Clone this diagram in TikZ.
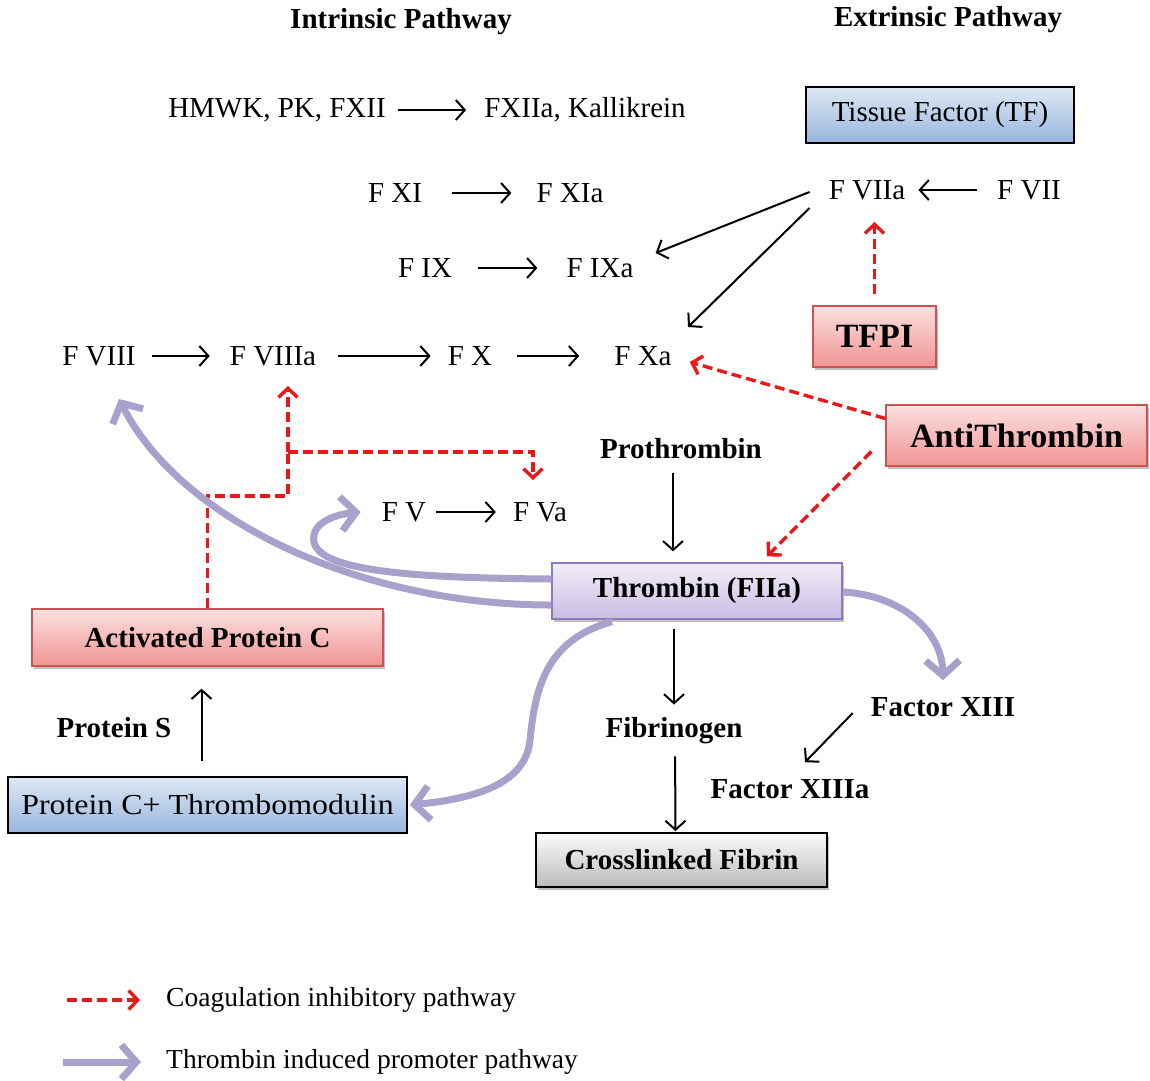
\documentclass[tikz,border=0pt]{standalone}
\usepackage{fontspec}
\usepackage{graphicx}
\setmainfont{Liberation Serif}
\usetikzlibrary{arrows.meta,shadows}
\definecolor{lav}{RGB}{170,160,204}
\definecolor{inhred}{RGB}{236,24,24}
\definecolor{blueT}{RGB}{222,232,244}
\definecolor{blueB}{RGB}{152,182,222}
\definecolor{redT}{RGB}{252,224,224}
\definecolor{redB}{RGB}{240,148,148}
\definecolor{redD}{RGB}{200,84,84}
\definecolor{purT}{RGB}{242,238,248}
\definecolor{purB}{RGB}{200,188,228}
\definecolor{purD}{RGB}{140,122,190}
\definecolor{grayT}{RGB}{252,252,252}
\definecolor{grayB}{RGB}{186,186,186}
\begin{document}
\begin{tikzpicture}[x=1pt,y=-1pt,
  txt/.style={font=\fontsize{29}{34}\selectfont, inner sep=0pt},
  btxt/.style={font=\bfseries\fontsize{29}{34}\selectfont, inner sep=0pt},
  legtxt/.style={font=\fontsize{27.5}{32}\selectfont, inner sep=0pt, anchor=west},
  arr/.style={line width=2pt, -{Straight Barb[length=9pt,width=20pt]}},
  inh/.style={draw=inhred, line width=3.4pt, dash pattern=on 10pt off 5pt, -{Straight Barb[length=9pt,width=19pt]}},
  prom/.style={draw=lav, line width=7pt, -{Straight Barb[length=15pt,width=34pt]}},
  shad/.style={drop shadow={shadow xshift=2pt,shadow yshift=-3pt,fill=black,opacity=0.25}},
  bluebox/.style={draw=black, line width=1.8pt, top color=blueT, bottom color=blueB, inner sep=0pt, font=\fontsize{29}{34}\selectfont},
  redbox/.style={draw=redD, line width=1.3pt, top color=redT, bottom color=redB, inner sep=0pt, shad, font=\bfseries\fontsize{29}{34}\selectfont},
  purbox/.style={draw=purD, line width=1.3pt, top color=purT, bottom color=purB, inner sep=0pt, shad, font=\bfseries\fontsize{29}{34}\selectfont},
  graybox/.style={draw=black, line width=1.8pt, top color=grayT, bottom color=grayB, inner sep=0pt, shad, font=\bfseries\fontsize{29}{34}\selectfont}
]
\useasboundingbox[fill=white] (0,0) rectangle (1150,1080);

% headings
\node[btxt] (intr) at (401,22) {Intrinsic Pathway};
\node[btxt] (extr) at (948,20) {Extrinsic Pathway};

% intrinsic chain
\node[txt] (hmwk) at (277,110) {HMWK, PK, FXII};
\node[txt] (fxiia) at (585,110) {FXIIa, Kallikrein};
\node[txt] (fxi) at (395,193) {F XI};
\node[txt] (fxia) at (570,193) {F XIa};
\node[txt] (fix) at (425,268) {F IX};
\node[txt] (fixa) at (600,268) {F IXa};
\node[txt] (fviii) at (99,356) {F VIII};
\node[txt] (fviiia) at (273,356) {F VIIIa};
\node[txt] (fx) at (470,356) {F X};
\node[txt] (fxa) at (643,356) {F Xa};
\node[txt] (fv) at (404,512) {F V};
\node[txt] (fva) at (540,512) {F Va};

% extrinsic
\node[bluebox, minimum width=268pt, minimum height=56pt] (tf) at (940,115) {Tissue Factor (TF)};
\node[txt] (fviia) at (867,190) {F VIIa};
\node[txt] (fvii) at (1029,190) {F VII};
\node[redbox, minimum width=123pt, minimum height=61pt, font=\bfseries\fontsize{34}{40}\selectfont] (tfpi) at (874.5,336.5) {TFPI};
\node[redbox, minimum width=261pt, minimum height=61pt, font=\bfseries\fontsize{34}{40}\selectfont] (at) at (1016.5,435.5) {AntiThrombin};

% common
\node[btxt] (proth) at (681,449) {Prothrombin};
\node[purbox, minimum width=290pt, minimum height=56pt] (thr) at (697,591) {Thrombin (FIIa)};
\node[btxt] (fib) at (674,731) {Fibrinogen};
\node[graybox, minimum width=291pt, minimum height=54pt] (cf) at (681.5,860) {Crosslinked Fibrin};
\node[btxt] (fxiii) at (943,707) {Factor XIII};
\node[btxt] (fxiiia) at (790,789) {Factor XIIIa};

% protein C
\node[redbox, minimum width=351pt, minimum height=57pt] (apc) at (207.5,637.5) {Activated Protein C};
\node[btxt] (ps) at (114,728) {Protein S};
\node[bluebox, minimum width=399pt, minimum height=56pt] (pctm) at (207.5,805) {\scalebox{1.1}[1]{Protein C+ Thrombomodulin}};

% black arrows
\draw[arr, shorten <=12pt, shorten >=18pt] (hmwk.east) -- (hmwk.east -| fxiia.west);
\draw[arr, shorten <=30pt, shorten >=25pt] (fxi.east) -- (fxi.east -| fxia.west);
\draw[arr, shorten <=26pt, shorten >=29pt] (fix.east) -- (fix.east -| fixa.west);
\draw[arr, shorten <=16pt, shorten >=20pt] (fviii.center -| fviii.east) -- (fviii.center -| fviiia.west);
\draw[arr, shorten <=22pt, shorten >=17pt] (fviiia.center -| fviiia.east) -- (fviiia.center -| fx.west);
\draw[arr, shorten <=25pt, shorten >=35pt] (fx.center -| fx.east) -- (fx.center -| fxa.west);
\draw[arr, shorten <=10pt, shorten >=17pt] (fv.center -| fv.east) -- (fv.center -| fva.west);
\draw[arr, shorten <=20pt, shorten >=13pt] (fvii.center -| fvii.west) -- (fvii.center -| fviia.east);
\draw[arr] ([xshift=-19pt,yshift=-2pt]fviia.west) -- ([xshift=22pt,yshift=15pt]fixa.east);
\draw[arr] ([xshift=-19pt,yshift=-18pt]fviia.west) -- ([xshift=45pt,yshift=29pt]fxa.center);
\draw[arr, shorten <=14pt, shorten >=11pt] ([xshift=-8pt]proth.south) -- ([xshift=-24pt]thr.north);
\draw[arr, shorten <=9pt, shorten >=13pt] ([xshift=-23pt]thr.south) -- (fib.north);
\draw[arr, shorten <=12pt, shorten >=1pt] ([xshift=1pt]fib.south) -- ([xshift=-6pt]cf.north);
\draw[arr] ([xshift=-18pt,yshift=-6pt]fxiii.west) -- ([xshift=15pt,yshift=17pt]fxiiia.north);
\draw[arr, shorten <=15pt, shorten >=22pt] ([xshift=-6pt]pctm.north) -- ([xshift=-6pt]apc.south);

% inhibitory (red dashed)
\coordinate (tfpitip) at (874.5,222);
\draw[inh, shorten <=11pt] (tfpi.north) -- (tfpitip);
\draw[inh] ([yshift=17pt]at.west) -- ([xshift=18pt,yshift=-6pt]fxa.east);
\draw[inh] ([xshift=-14pt,yshift=-16pt]at.west) -- ([xshift=70pt,yshift=6pt]thr.north);
\coordinate (j1) at (207.5,496);
\coordinate (j2) at (288,496);
\coordinate (j3) at (288,452);
\coordinate (j4) at (533,452);
\coordinate (viiitip) at (288,386);
\coordinate (vatip) at (533,480);
\draw[inh, -] (apc.north) -- (j1) -- (j2) -- (j3);
\draw[inh] (j3) -- (viiitip);
\draw[inh] (j3) -- (j4) -- (vatip);

% promoter (purple)
\draw[prom] ([yshift=-14pt]thr.west) .. controls (360,605) and (180,520) .. ([xshift=20pt,yshift=-33pt]fviii.south);
\draw[prom] ([yshift=12pt]thr.west) .. controls (420,578) and (320,572) .. (314,542) .. controls (310,522) and (338,514) .. ([xshift=-21pt]fv.west);
\draw[prom] ([yshift=-1pt]thr.east) .. controls (900,595) and (942,630) .. ([yshift=17pt]fxiii.north);
\draw[prom] ([xshift=-85pt,yshift=-2pt]thr.south) .. controls (545,640) and (535,690) .. (530,740) .. controls (526,782) and (480,798) .. ([xshift=2pt]pctm.east);

% legend
\coordinate (l1a) at (67,1000);
\coordinate (l1b) at (140,1000);
\draw[inh] (l1a) -- (l1b);
\node[legtxt] (l1t) at (166,1000) {Coagulation inhibitory pathway};
\coordinate (l2a) at (63,1062);
\coordinate (l2b) at (141,1062);
\draw[prom] (l2a) -- (l2b);
\node[legtxt] (l2t) at (166,1062) {Thrombin induced promoter pathway};
\end{tikzpicture}
\end{document}
